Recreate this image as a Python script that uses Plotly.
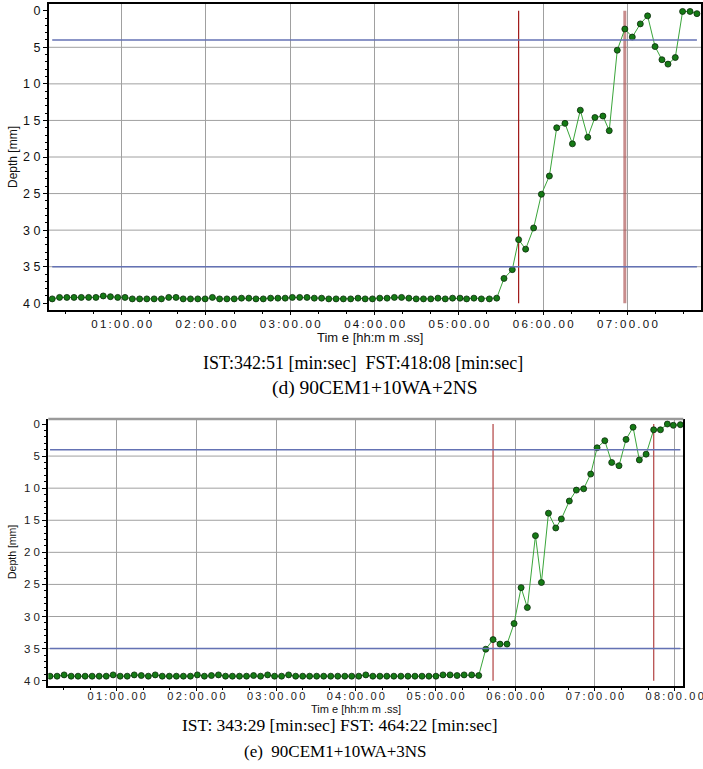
import plotly.graph_objects as go

# ---------------- data (time in seconds, depth in mm) ----------------
top_time = [10.6, 15.8, 21.0, 26.1, 31.3, 36.5, 41.7, 46.9, 52.0, 57.2,
            62.4, 67.6, 72.8, 77.9, 83.1, 88.3, 93.5, 98.7, 103.8, 109.0,
            114.2, 119.4, 124.6, 129.7, 134.9, 140.1, 145.3, 150.5, 155.6, 160.8,
            166.0, 171.2, 176.4, 181.5, 186.7, 191.9, 197.1, 202.3, 207.4, 212.6,
            217.8, 223.0, 228.2, 233.3, 238.5, 243.7, 248.9, 254.1, 259.2, 264.4,
            269.6, 274.8, 280.0, 285.1, 290.3, 295.5,
            300.8, 305.5, 310.7, 316.0, 321.7, 326.9, 332.1, 338.0, 342.5, 347.5,
            353.2, 358.7, 364.4, 369.6, 375.5, 380.8, 386.4, 391.7, 396.8, 402.5,
            407.0, 412.7, 418.1, 423.4, 429.1, 434.3, 439.6, 444.5, 448.8, 454.0,
            459.2, 464.5, 469.4]
top_depth = [39.4, 39.2, 39.2, 39.2, 39.2, 39.2, 39.2, 39.0, 39.1, 39.2,
             39.2, 39.4, 39.4, 39.4, 39.4, 39.4, 39.2, 39.2, 39.4, 39.4,
             39.4, 39.4, 39.2, 39.4, 39.4, 39.4, 39.3, 39.3, 39.4, 39.4,
             39.3, 39.3, 39.3, 39.2, 39.2, 39.2, 39.3, 39.3, 39.4, 39.4,
             39.4, 39.4, 39.3, 39.4, 39.4, 39.3, 39.3, 39.2, 39.2, 39.3,
             39.4, 39.4, 39.4, 39.3, 39.4, 39.3,
             39.3, 39.4, 39.3, 39.4, 39.4, 39.3, 36.6, 35.4, 31.3, 32.6,
             29.7, 25.1, 22.6, 16.0, 15.4, 18.2, 13.6, 17.3, 14.6, 14.4,
             16.4, 5.4, 2.5, 3.6, 1.8, 0.7, 4.9, 6.7, 7.3, 6.4,
             0.1, 0.1, 0.4]

bot_time = [9.8, 15.1, 20.4, 25.7, 30.9, 36.2, 41.5, 46.8, 52.1, 57.3,
            62.6, 67.9, 73.2, 78.5, 83.8, 89.0, 94.3, 99.6, 104.9, 110.2,
            115.5, 120.7, 126.0, 131.3, 136.6, 141.9, 147.1, 152.4, 157.7, 163.0,
            168.3, 173.6, 178.8, 184.1, 189.4, 194.7, 200.0, 205.2, 210.5, 215.8,
            221.1, 226.4, 231.7, 236.9, 242.2, 247.5, 252.8, 258.1, 263.3, 268.6,
            273.9, 279.2, 284.5, 289.8, 295.0, 300.3, 305.6, 310.9, 316.2,
            321.5, 327.2, 332.5, 337.8, 343.3, 348.5, 353.8, 359.1, 364.4, 369.1,
            375.2, 379.7, 385.0, 390.5, 394.7, 400.7, 406.0, 411.5, 416.8, 421.6,
            427.4, 432.6, 438.1, 443.4, 448.7, 453.4, 458.5, 464.2, 469.3, 474.5,
            479.0, 484.3]
bot_depth = [39.3, 39.3, 39.1, 39.3, 39.3, 39.3, 39.3, 39.3, 39.3, 39.1,
             39.3, 39.3, 39.1, 39.2, 39.3, 39.1, 39.3, 39.3, 39.3, 39.3,
             39.3, 39.1, 39.3, 39.2, 39.1, 39.3, 39.3, 39.3, 39.3, 39.2,
             39.3, 39.1, 39.3, 39.3, 39.1, 39.3, 39.3, 39.3, 39.3, 39.3,
             39.3, 39.3, 39.3, 39.3, 39.3, 39.1, 39.3, 39.3, 39.3, 39.3,
             39.3, 39.3, 39.3, 39.3, 39.3, 39.3, 39.1, 39.1, 39.2,
             39.1, 39.1, 39.2, 35.1, 33.6, 34.3, 34.3, 31.1, 25.5, 28.6,
             17.4, 24.7, 13.9, 16.2, 14.8, 12.0, 10.3, 10.1, 7.8, 3.7,
             2.6, 6.0, 6.5, 2.4, 0.5, 5.6, 4.7, 0.9, 0.9, 0.0,
             0.2, 0.1]

thresholds = [4, 35]
top_marks = [342.51, 418.08]   # IST, FST (s)
bot_marks = [343.29, 464.22]

top_xticks = [60, 120, 180, 240, 300, 360, 420]
top_xtext = ["01:00.00", "02:00.00", "03:00.00", "04:00.00", "05:00.00", "06:00.00", "07:00.00"]
bot_xticks = [60, 120, 180, 240, 300, 360, 420, 480]
bot_xtext = ["01:00.00", "02:00.00", "03:00.00", "04:00.00",
             "05:00.00", "06:00.00", "07:00.00", "08:00.00"]
yticks = [0, 5, 10, 15, 20, 25, 30, 35, 40]
ytext = ["0", "5", "1 0", "1 5", "2 0", "2 5", "3 0", "3 5", "4 0"]
grid_y = [5, 10, 15, 20, 25, 30, 35]

W, H = 703, 769
SANS = "Liberation Sans, Arial, sans-serif"
SERIF = "Liberation Serif, Times New Roman, serif"
TS = "\u2009"  # thin space for letter-spaced look


def spaced(s):
    return TS.join(list(s))


fig = go.Figure()
marker = dict(size=6, color="#157a15", line=dict(width=0.8, color="#0b2b0b"))
fig.add_trace(go.Scatter(x=top_time, y=top_depth, mode="lines+markers",
                         line=dict(color="#3aa53a", width=1), marker=marker,
                         xaxis="x", yaxis="y", showlegend=False))
fig.add_trace(go.Scatter(x=bot_time, y=bot_depth, mode="lines+markers",
                         line=dict(color="#3aa53a", width=1), marker=marker,
                         xaxis="x2", yaxis="y2", showlegend=False))

shapes = []
for xr, yr, t in (("x", "y", top_time), ("x2", "y2", bot_time)):
    for g in grid_y:
        shapes.append(dict(type="line", xref=xr + " domain", yref=yr, x0=0, x1=1, y0=g, y1=g,
                           line=dict(color="#a0a0a0", width=1), layer="below"))
    for th in thresholds:
        shapes.append(dict(type="line", xref=xr, yref=yr, x0=t[0], x1=t[-1], y0=th, y1=th,
                           line=dict(color="#6472b4", width=1.5), layer="above"))
# IST / FST markers
shapes.append(dict(type="line", xref="x", yref="y", x0=top_marks[0], x1=top_marks[0], y0=0, y1=40,
                   line=dict(color="#a01818", width=1.2), layer="below"))
shapes.append(dict(type="line", xref="x", yref="y", x0=top_marks[1], x1=top_marks[1], y0=0, y1=40,
                   line=dict(color="rgba(170,80,80,0.65)", width=3), layer="below"))
for m in bot_marks:
    shapes.append(dict(type="line", xref="x2", yref="y2", x0=m, x1=m, y0=0, y1=40,
                       line=dict(color="#b85050", width=1.3), layer="below"))
# bottom chart: grey top border
shapes.append(dict(type="line", xref="x2 domain", yref="y2 domain", x0=0, x1=1, y0=1, y1=1,
                   line=dict(color="#9a9a9a", width=2.5)))

axis_common = dict(showline=True, linecolor="black", linewidth=2, ticks="outside",
                   tickcolor="black", zeroline=False, automargin=False)

fig.update_layout(
    width=W, height=H, margin=dict(l=0, r=0, t=0, b=0),
    paper_bgcolor="white", plot_bgcolor="white", shapes=shapes,
    xaxis=dict(domain=[49 / W, 701 / W], anchor="y", range=[8.3, 472.3],
               tickmode="array", tickvals=top_xticks, ticktext=[spaced(s) for s in top_xtext],
               showgrid=True, gridcolor="#a0a0a0", gridwidth=1, mirror=True, ticklen=3,
               ticklabelstandoff=-1, ticklabeloverflow="allow",
               minor=dict(dtick=20, tick0=0, ticks="outside", ticklen=2, tickcolor="black", showgrid=False),
               tickfont=dict(family=SANS, size=11.5, color="#111"), **axis_common),
    yaxis=dict(domain=[1 - 310 / H, 1 - 4 / H], anchor="x", range=[40.92, -0.92],
               tickmode="array", tickvals=yticks, ticktext=ytext, showgrid=False,
               mirror=True, ticklen=4,
               minor=dict(dtick=1, tick0=0, ticks="outside", ticklen=2, tickcolor="black", showgrid=False),
               tickfont=dict(family=SANS, size=12.5, color="#111"), **axis_common),
    xaxis2=dict(domain=[48.3 / W, 683.3 / W], anchor="y2", range=[8.5, 486.5],
                tickmode="array", tickvals=bot_xticks, ticktext=[spaced(s) for s in bot_xtext],
                showgrid=True, gridcolor="#a0a0a0", gridwidth=1, mirror=False, ticklen=3,
                ticklabelstandoff=-4, ticklabeloverflow="allow",
                minor=dict(dtick=20, tick0=0, ticks="outside", ticklen=2, tickcolor="black", showgrid=False),
                tickfont=dict(family=SANS, size=11, color="#222"), **axis_common),
    yaxis2=dict(domain=[1 - 686 / H, 1 - 419 / H], anchor="x2", range=[40.83, -0.78],
                tickmode="array", tickvals=yticks, ticktext=ytext, showgrid=False,
                mirror=True, ticklen=4,
                minor=dict(dtick=1, tick0=0, ticks="outside", ticklen=2, tickcolor="black", showgrid=False),
                tickfont=dict(family=SANS, size=11.5, color="#222"), **axis_common),
)


def ann(text, x, y, size, family=SANS, angle=0, color="#111"):
    return dict(text=text, x=x / W, y=1 - y / H, xref="paper", yref="paper",
                xanchor="center", yanchor="middle", showarrow=False, textangle=angle,
                font=dict(family=family, size=size, color=color))


fig.update_layout(annotations=[
    ann("Depth [mm]", 13, 157, 12, angle=-90),
    ann("Depth [mm]", 12, 552, 10.5, angle=-90),
    ann("Tim e [hh:m m .ss]", 370, 337, 13),
    ann("Tim e [hh:m m .ss]", 356, 709, 11),
    ann("IST:342:51 [min:sec] \u00a0FST:418:08 [min:sec]", 363, 363, 18, family=SERIF, color="black"),
    ann("(d) 90CEM1+10WA+2NS", 375, 388, 19.5, family=SERIF, color="black"),
    ann("IST: 343:29 [min:sec] FST: 464:22 [min:sec]", 340, 725, 17.5, family=SERIF, color="black"),
    ann("(e) \u00a090CEM1+10WA+3NS", 335, 751, 17, family=SERIF, color="black"),
])

fig.write_html("out.html")
